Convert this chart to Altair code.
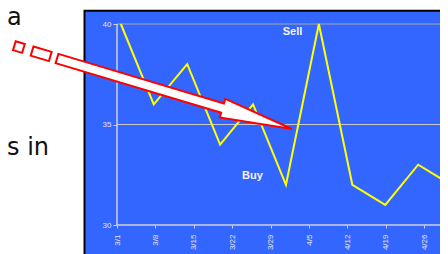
import math
import altair as alt
import pandas as pd

# ---- data ----
days = [0.7, 6.7, 12.8, 18.8, 24.8, 30.8, 36.8, 42.9, 48.9, 54.9, 60.9]
prices = [40, 36, 38, 34, 36, 32, 40, 32, 31, 33, 32]
tick_days = [0, 7, 14, 21, 28, 35, 42, 49, 56]
tick_labels = ["3/1", "3/8", "3/15", "3/22", "3/29", "4/5", "4/12", "4/19", "4/26"]
y_ticks = [30, 35, 40]
note_text = ["Sell", "Buy"]
note_day = [32.0, 24.7]
note_price = [39.45, 32.3]
slide_text = ["a", "s in"]

# ---- layout ----
PX_PER_DAY = 5.486
OX, OY = 117, 24          # plot origin on the page
W, H = 440 - OX, 201      # the page body is 432 px wide (8..440)
X_MAX = W / PX_PER_DAY
BLUE = "#3366FF"
AXC = "#d0d0d0"
LABC = "#e4e4e4"

x_scale = alt.Scale(domain=[0, X_MAX], nice=False, zero=False)
y_scale = alt.Scale(domain=[30, 40], nice=False, zero=False)

df = pd.DataFrame({"day": days, "price": prices})
one = pd.DataFrame({"k": [0]})

label_arr = "[" + ",".join("'%s'" % t for t in tick_labels) + "]"

# panel
panel = alt.Chart(one).mark_rect(fill=BLUE, stroke="black", strokeWidth=2).encode(
    x=alt.value(84.5 - OX), x2=alt.value(500), y=alt.value(10.8 - OY), y2=alt.value(400)
)

# grid lines
grid_df = pd.DataFrame({"v": y_ticks[1:]})
grid = alt.Chart(grid_df).mark_rule(strokeWidth=1).encode(
    y=alt.Y("v:Q", scale=y_scale),
    color=alt.condition("datum.v == 40", alt.value("#a8a8a8"), alt.value("#c8c8c8")),
)

# axis lines
yaxis_line = alt.Chart(one).mark_rule(color=AXC, strokeWidth=1.5).encode(
    x=alt.datum(0), y=alt.datum(y_ticks[0]), y2=alt.datum(y_ticks[-1])
)
xaxis_line = alt.Chart(one).mark_rule(color=AXC, strokeWidth=1.5).encode(
    y=alt.datum(y_ticks[0])
)

line = alt.Chart(df).mark_line(color="#FFFF00", strokeWidth=2, clip=False).encode(
    x=alt.X("day:Q", scale=x_scale,
            axis=alt.Axis(values=tick_days, labelExpr=label_arr + "[round(datum.value/7)]",
                          grid=False, domain=False, tickColor=AXC, tickSize=3,
                          labelAngle=270, labelFont="Liberation Sans", labelFontSize=8,
                          labelColor=LABC, labelPadding=6, labelOverlap=False,
                          labelFlush=False, title=None, zindex=1)),
    y=alt.Y("price:Q", scale=y_scale,
            axis=alt.Axis(values=y_ticks, grid=False, domain=False, tickColor=AXC,
                          tickSize=4, labelFont="Liberation Sans", labelFontSize=8,
                          labelColor=LABC, labelPadding=2, title=None, zindex=1)),
)

notes_df = pd.DataFrame({"t": note_text, "d": note_day, "p": note_price})
notes = alt.Chart(notes_df).mark_text(
    font="Liberation Sans", fontWeight="bold", fontSize=11, color="#f4f4f4",
    align="center", baseline="alphabetic").encode(
    x=alt.X("d:Q", scale=x_scale), y=alt.Y("p:Q", scale=y_scale), text="t:N")

# ---- block arrow (decoration), in pixels relative to the plot origin ----
T = (57.0, 58.5)
P = (292.0, 129.0)
L = math.hypot(P[0] - T[0], P[1] - T[1])
u = ((P[0] - T[0]) / L, (P[1] - T[1]) / L)
n = (-u[1], u[0])

def pt(s, w):
    return (T[0] + s * u[0] + w * n[0] - OX, T[1] + s * u[1] + w * n[1] - OY)

hs, hh, head_len = 4.8, 9.8, 72.5
sb = L - head_len
poly = [pt(0, -hs), pt(sb, -hs), pt(sb, -hh), (P[0] - OX, P[1] - OY), pt(sb, hh), pt(sb, hs), pt(0, hs)]
rect2 = [pt(-7, -hs), pt(-26, -hs), pt(-26, hs), pt(-7, hs)]
rect1 = [pt(-35, -4.6), pt(-44.5, -4.6), pt(-44.5, 4.6), pt(-35, 4.6)]

def sub(pts):
    return "M" + " L".join("%.2f,%.2f" % p for p in pts) + " Z"

arrow_path = " ".join(sub(p) for p in (poly, rect2, rect1))
arrow = alt.Chart(one).mark_point(
    shape=arrow_path, size=4, filled=True, fill="white", stroke="#ff0000",
    strokeWidth=2, opacity=1, fillOpacity=1, strokeOpacity=1, strokeJoin="miter"
).encode(x=alt.value(0), y=alt.value(0))

# slide text (the page's left 8 px cannot be drawn, so start at the body edge)
txt_a = alt.Chart(one).mark_text(
    text=slide_text[0], font="DejaVu Sans", fontSize=24, color="#111111",
    align="left", baseline="alphabetic").encode(x=alt.value(7 - OX), y=alt.value(25 - OY))
txt_b = alt.Chart(one).mark_text(
    text=slide_text[1], font="DejaVu Sans", fontSize=24, color="#111111",
    align="left", baseline="alphabetic").encode(x=alt.value(7 - OX), y=alt.value(155 - OY))

chart = alt.layer(panel, grid, yaxis_line, xaxis_line, line, notes, arrow, txt_a, txt_b).properties(
    width=W, height=H,
    autosize=alt.AutoSizeParams(type="none"),
    padding={"left": OX - 8, "top": OY - 8, "right": 0, "bottom": 254 - OY - H},
).configure_view(strokeWidth=0).configure(background="white")

chart.save("out.html", embed_options={"renderer": "svg", "actions": False})
